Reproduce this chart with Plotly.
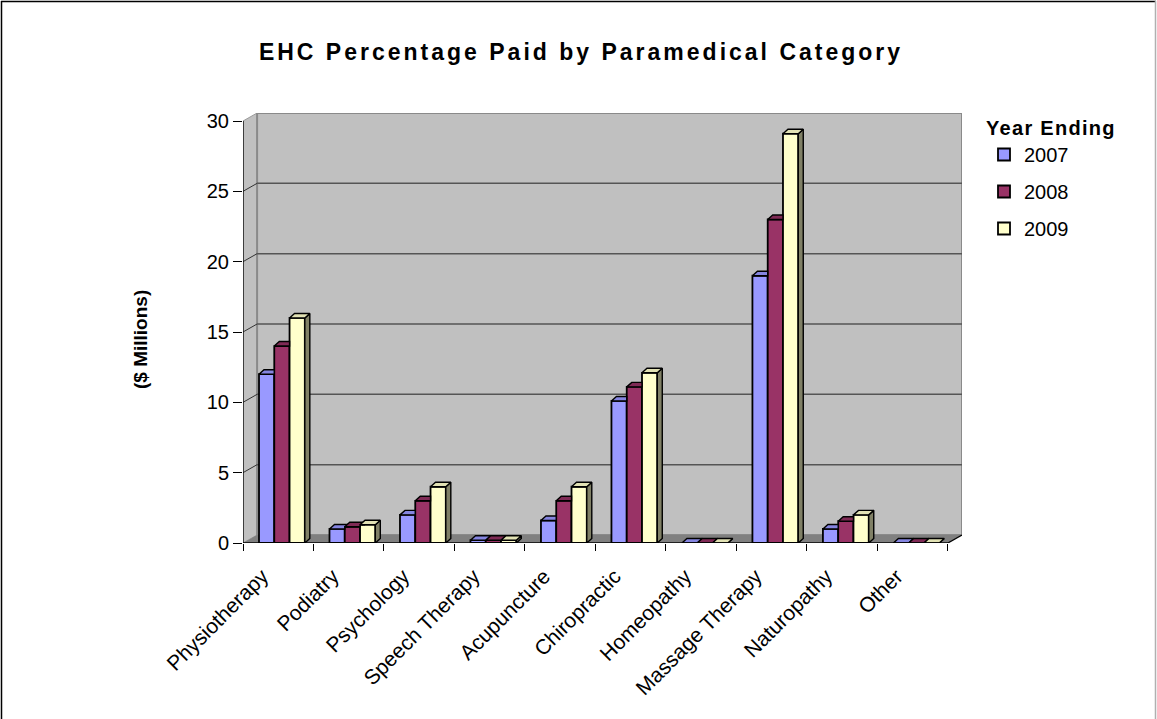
import plotly.graph_objects as go

# ---------------- data ----------------
categories = ["Physiotherapy", "Podiatry", "Psychology", "Speech Therapy", "Acupuncture",
              "Chiropractic", "Homeopathy", "Massage Therapy", "Naturopathy", "Other"]
series_names = ["2007", "2008", "2009"]
values_2007 = [12.0, 1.0, 2.0, 0.2, 1.6, 10.1, 0.0, 19.0, 1.0, 0.0]
values_2008 = [14.0, 1.15, 3.0, 0.2, 3.0, 11.1, 0.0, 23.0, 1.55, 0.0]
values_2009 = [16.0, 1.3, 4.0, 0.2, 4.0, 12.1, 0.0, 29.1, 2.0, 0.0]
y_ticks = [0, 5, 10, 15, 20, 25, 30]

title_text = "EHC Percentage Paid by Paramedical Category"
y_title = "($ Millions)"
legend_title = "Year Ending"

# ---------------- styling / geometry ----------------
W, H = 1157, 719
ML, MR, MT, MB = 243, 195, 113, 176
PW, PH = W - ML - MR, H - MT - MB
FONT = "Liberation Sans, Arial, sans-serif"

front_colors = ["#9999FF", "#993366", "#FFFFCC"]
top_colors = ["#8585E0", "#7F2A55", "#E2E2B4"]
side_colors = ["#4D4D80", "#4D1A33", "#808066"]

YMAX = 30
DX, DY = 0.2, 0.57          # wall depth in data units
BDX, BDY = 0.071, 0.32      # bar depth in data units
GROUP_W = 0.65
BW = GROUP_W / 3
GROUP_SHIFT = 0.552         # group centre within the category slot
n = len(categories)
series_values = [values_2007, values_2008, values_2009]


def clip_above(poly, yc):
    """Sutherland-Hodgman clip polygon to half plane y >= yc."""
    out = []
    m = len(poly)
    for i in range(m):
        cx, cy = poly[i]
        px, py = poly[i - 1]
        cin, pin = cy >= yc, py >= yc
        if cin:
            if not pin:
                t = (yc - py) / (cy - py)
                out.append((px + t * (cx - px), yc))
            out.append((cx, cy))
        elif pin:
            t = (yc - py) / (cy - py)
            out.append((px + t * (cx - px), yc))
    return out


fig = go.Figure()

# front faces: real bar traces
xc = [i + GROUP_SHIFT for i in range(n)]
for k, (name, vals) in enumerate(zip(series_names, series_values)):
    fig.add_trace(go.Bar(
        x=xc, y=vals, name=name, width=BW, offset=-GROUP_W / 2 + k * BW,
        marker=dict(color=front_colors[k], line=dict(color="black", width=1.8)),
        legendgroup=name, hoverinfo="x+y"))

# top and side faces (pseudo-3D), computed from the same data
for k, vals in enumerate(series_values):
    tx, ty, sx, sy = [], [], [], []
    for i in range(n):
        v = vals[i]
        x0 = xc[i] - GROUP_W / 2 + k * BW
        x1 = x0 + BW
        vn = series_values[k + 1][i] if k < 2 else None
        t = 0.0 if vn is None else max(0.0, min(1.0, (vn - v) / BDY))
        if t >= 1.0:
            top = [(x0, v), (x1, v), (x1, v + BDY), (x0 + BDX, v + BDY)]
        else:
            top = [(x0, v), (x1, v), (x1, v + t * BDY), (x1 + t * BDX, v + t * BDY),
                   (x1 + BDX, v + BDY), (x0 + BDX, v + BDY)]
        for (a, b) in top + [top[0]]:
            tx.append(a); ty.append(b)
        tx.append(None); ty.append(None)
        side = [(x1, 0), (x1 + BDX, BDY), (x1 + BDX, v + BDY), (x1, v)]
        if vn is not None:
            side = clip_above(side, vn)
        if len(side) >= 3:
            for (a, b) in side + [side[0]]:
                sx.append(a); sy.append(b)
            sx.append(None); sy.append(None)
    fig.add_trace(go.Scatter(x=sx, y=sy, mode="lines", fill="toself",
                             fillcolor=side_colors[k], line=dict(color="black", width=1.4),
                             showlegend=False, hoverinfo="skip", legendgroup=series_names[k]))
    fig.add_trace(go.Scatter(x=tx, y=ty, mode="lines", fill="toself",
                             fillcolor=top_colors[k], line=dict(color="black", width=1.4),
                             showlegend=False, hoverinfo="skip", legendgroup=series_names[k]))

shapes = []
# left wall
shapes.append(dict(type="path", xref="x", yref="y", layer="below",
                   path=f"M 0,0 L {DX},{DY} L {DX},{YMAX + DY} L 0,{YMAX} Z",
                   fillcolor="#C0C0C0", line=dict(color="#9A9A9A", width=1)))
# back wall
shapes.append(dict(type="rect", xref="x", yref="y", layer="below",
                   x0=DX, x1=n + DX, y0=DY, y1=YMAX + DY,
                   fillcolor="#C0C0C0", line=dict(color="#8A8A8A", width=2)))
# floor
shapes.append(dict(type="path", xref="x", yref="y", layer="below",
                   path=f"M 0,0 L {n},0 L {n + DX},{DY} L {DX},{DY} Z",
                   fillcolor="#808080", line=dict(width=0)))
# gridlines on back wall and left wall
for v in y_ticks[1:-1]:
    shapes.append(dict(type="line", xref="x", yref="y", layer="below",
                       x0=DX, x1=n + DX, y0=v + DY, y1=v + DY,
                       line=dict(color="#555555", width=1.5)))
    shapes.append(dict(type="line", xref="x", yref="y", layer="below",
                       x0=0, x1=DX, y0=v, y1=v + DY,
                       line=dict(color="#333333", width=1)))
# axis lines
shapes.append(dict(type="line", xref="x", yref="y", x0=0, x1=0, y0=0, y1=YMAX,
                   line=dict(color="black", width=1.3)))
shapes.append(dict(type="line", xref="x", yref="y", x0=0, x1=n, y0=0, y1=0,
                   line=dict(color="black", width=1.3)))
shapes.append(dict(type="line", xref="x", yref="y", x0=n, x1=n + DX, y0=0, y1=DY,
                   line=dict(color="black", width=1.3)))


# outer frame of the chart (paper coords computed from pixels)
def pxx(p):
    return (p - ML) / PW


def pxy(p):
    return (H - MB - p) / PH


shapes.append(dict(type="line", xref="paper", yref="paper", x0=pxx(1.5), x1=pxx(1.5),
                   y0=pxy(1), y1=pxy(H), line=dict(color="black", width=1.5)))
shapes.append(dict(type="line", xref="paper", yref="paper", x0=pxx(1), x1=pxx(W - 1),
                   y0=pxy(1.5), y1=pxy(1.5), line=dict(color="black", width=1.5)))
shapes.append(dict(type="line", xref="paper", yref="paper", x0=pxx(W - 1.5), x1=pxx(W - 1.5),
                   y0=pxy(1), y1=pxy(H), line=dict(color="#B0B0B0", width=1.5)))

fig.update_layout(
    width=W, height=H,
    margin=dict(l=ML, r=MR, t=MT, b=MB, pad=0),
    paper_bgcolor="white", plot_bgcolor="rgba(0,0,0,0)",
    barmode="overlay",
    font=dict(family=FONT, color="black", size=20),
    title=dict(text=f"<b><span style='letter-spacing:3px'>{title_text}</span></b>",
               x=581 / W, xref="container", xanchor="center",
               y=1 - 52 / H, yref="container", yanchor="middle",
               font=dict(size=23, family=FONT, color="black")),
    xaxis=dict(range=[0, n + DX], tickvals=[i + 0.5 for i in range(n)], ticktext=categories,
               tickangle=-45, ticks="", showgrid=False, zeroline=False, showline=False,
               tickfont=dict(size=21, family=FONT), ticklabelstandoff=16, ticklabelshift=-16,
               minor=dict(tickmode="array", tickvals=list(range(n + 1)), ticks="outside",
                          ticklen=7, tickwidth=1, tickcolor="black", showgrid=False)),
    yaxis=dict(range=[0, YMAX + DY], tickvals=y_ticks, ticks="outside", ticklen=9,
               tickwidth=1, tickcolor="black", showgrid=False, zeroline=False, showline=False,
               tickfont=dict(size=20, family=FONT)),
    legend=dict(x=pxx(984), y=pxy(109), xanchor="left", yanchor="top",
                title=dict(text=f"<b><span style='letter-spacing:1.3px'>{legend_title}</span></b>",
                           font=dict(size=20, family=FONT)),
                font=dict(size=20, family=FONT), traceorder="grouped", tracegroupgap=8,
                bgcolor="rgba(0,0,0,0)"),
    shapes=shapes,
    annotations=[dict(text=f"<b>{y_title}</b>", xref="paper", yref="paper",
                      x=pxx(140), y=pxy(340), xanchor="center", yanchor="middle",
                      textangle=-90, showarrow=False, font=dict(size=19, family=FONT))],
)

fig.write_html("out.html")
